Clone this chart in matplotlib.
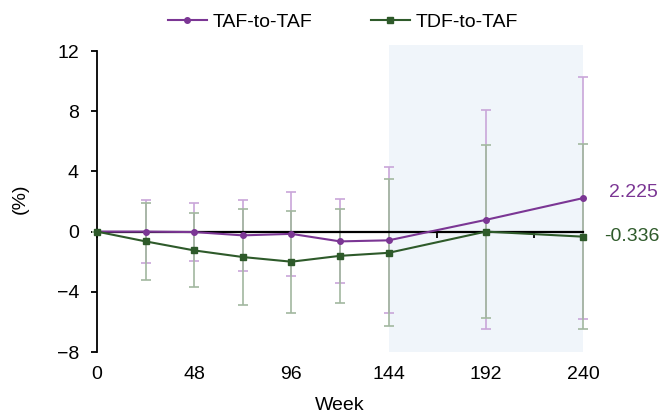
import numpy as np
import matplotlib.pyplot as plt

plt.rcParams['font.family'] = ['Liberation Sans', 'DejaVu Sans']

weeks = [0, 24, 48, 72, 96, 120, 144, 192, 240]
taf_mean = [0, 0, -0.03, -0.25, -0.15, -0.65, -0.58, 0.78, 2.225]
taf_sd = [0, 2.07, 1.9, 2.36, 2.77, 2.79, 4.85, 7.27, 8.04]
tdf_mean = [0, -0.65, -1.25, -1.69, -2.0, -1.61, -1.41, 0.0, -0.336]
tdf_sd = [0, 2.54, 2.46, 3.21, 3.38, 3.13, 4.88, 5.77, 6.15]
xtick_labels = [0, 48, 96, 144, 192, 240]
yticks = [-8, -4, 0, 4, 8, 12]

purple = "#7b3694"
purple_err = "#c9a6d9"
green = "#2e5a2a"
green_err = "#a2b89f"

fig = plt.figure(figsize=(6.61, 4.15), dpi=100)
ax = fig.add_axes([97 / 661, 63 / 415, 486 / 661, 307 / 415])

# shaded extension period
ax.axvspan(144, 240, color="#f0f5fa", zorder=0, lw=0)

ax.errorbar(weeks, taf_mean, yerr=taf_sd, fmt="none", ecolor=purple_err,
            elinewidth=1.2, capsize=3.5, capthick=1.2, zorder=2, clip_on=False)
ax.errorbar(weeks, tdf_mean, yerr=tdf_sd, fmt="none", ecolor=green_err,
            elinewidth=1.2, capsize=3.5, capthick=1.2, zorder=2, clip_on=False)

ax.plot(weeks, taf_mean, color=purple, lw=1.5, marker="o", ms=4,
        label="TAF-to-TAF", zorder=4, clip_on=False)
ax.plot(weeks, tdf_mean, color=green, lw=1.5, marker="s", ms=4.5,
        label="TDF-to-TAF", zorder=4, clip_on=False)

ax.annotate(f"{taf_mean[-1]:.3f}", xy=(weeks[-1], taf_mean[-1]), xytext=(19, 4),
            textcoords="offset points", va="center", ha="left",
            color=purple, fontsize=14, annotation_clip=False)
ax.annotate(f"{tdf_mean[-1]:.3f}", xy=(weeks[-1], tdf_mean[-1]), xytext=(15, 0),
            textcoords="offset points", va="center", ha="left",
            color=green, fontsize=14, annotation_clip=False)

ax.set_xlim(0, 240)
ax.set_ylim(-8, 12.4)

# zero line acts as the x axis
for s in ["top", "right"]:
    ax.spines[s].set_visible(False)
ax.spines["bottom"].set_position(("data", 0))
ax.spines["bottom"].set_linewidth(1.6)
ax.spines["bottom"].set_zorder(3)
ax.spines["left"].set_bounds(-8, 12)
ax.spines["left"].set_linewidth(1.3)
ax.set_xticks(range(0, 241, 24))
ax.tick_params(axis="x", direction="out", length=4, width=1.3, labelbottom=False)

ax.set_yticks(yticks)
ax.tick_params(axis="y", direction="out", length=4, width=1.3, pad=9, labelsize=14)
ax.set_ylabel("(%)", fontsize=14, labelpad=20)

sec = ax.secondary_xaxis("bottom")
sec.set_xticks(xtick_labels)
sec.tick_params(length=0, pad=10, labelsize=14)
sec.spines["bottom"].set_visible(False)
sec.set_xlabel("Week", fontsize=14, labelpad=10)

fig.legend(loc="center", bbox_to_anchor=(343 / 661, 1 - 22 / 415), ncol=2,
           frameon=False, fontsize=14, handlelength=2.0, handletextpad=0.3,
           columnspacing=3.0)

fig.savefig("out.png", dpi=100)
